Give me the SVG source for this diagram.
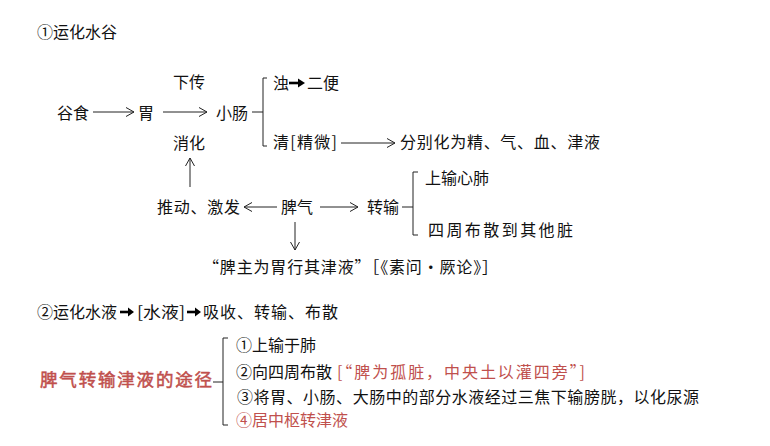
<svg xmlns="http://www.w3.org/2000/svg" width="770" height="446" viewBox="0 0 770 446">
<defs>
<style>
text{font-family:"Noto Sans CJK SC","Noto Sans",sans-serif;font-size:16px;fill:#111}
.red{fill:#c0504d}
.title{font-size:17.5px;fill:#c0504d;stroke:#c0504d;stroke-width:0.5}
.ln{stroke:#222;stroke-width:1;fill:none}
.arr{stroke:#222;stroke-width:1;fill:none;marker-end:url(#open)}
.bold{stroke:#000;stroke-width:2.6;fill:none}
.bh{fill:#000}
</style>
<marker id="open" markerUnits="userSpaceOnUse" markerWidth="12" markerHeight="12" refX="9" refY="5" orient="auto">
<path d="M1,0.5 L9,5 L1,9.5" fill="none" stroke="#222" stroke-width="1"/>
</marker>
</defs>
<rect width="770" height="446" fill="#fff"/>

<g id="connectors">
<line class="arr" x1="93" y1="112" x2="134" y2="112"/>
<line class="arr" x1="163" y1="112" x2="207" y2="112"/>
<path class="ln" d="M252,112 H263 M267,78 H263 V146 H267"/>
<path class="bold" d="M289,83 H299"/>
<path class="bh" d="M298,78.5 L305,83 L298,87.5 Z"/>
<line class="arr" x1="341" y1="143" x2="395" y2="143"/>
<line class="arr" x1="190" y1="187" x2="190" y2="158"/>
<line class="arr" x1="277" y1="207" x2="244" y2="207"/>
<line class="arr" x1="320" y1="207" x2="358" y2="207"/>
<path class="ln" d="M402,207 H413 M418,172 H413 V235 H418"/>
<line class="arr" x1="295" y1="222" x2="295" y2="250"/>
<path class="bold" d="M120,312 H129"/>
<path class="bh" d="M128,307.5 L134,312 L128,316.5 Z"/>
<path class="bold" d="M187,312 H196"/>
<path class="bh" d="M195,307.5 L201,312 L195,316.5 Z"/>
<path class="ln" d="M213,382 H223 M228,338 H223 V425 H228"/>
</g>

<g id="heading1"><text x="37" y="38">①运化水谷</text></g>
<g id="xiachuan"><text x="173" y="88">下传</text></g>
<g id="gushi"><text x="57" y="119">谷食</text></g>
<g id="wei"><text x="138" y="119">胃</text></g>
<g id="xiaochang"><text x="216" y="119">小肠</text></g>
<g id="xiaohua"><text x="173" y="149">消化</text></g>
<g id="zhuo"><text x="273" y="89">浊</text><text x="307" y="89">二便</text></g>
<g id="qing"><text x="273" y="148" textLength="64" lengthAdjust="spacing">清[精微]</text></g>
<g id="fenbie"><text x="400" y="148" textLength="200" lengthAdjust="spacing">分别化为精、气、血、津液</text></g>
<g id="tuidong"><text x="157" y="213" textLength="83" lengthAdjust="spacing">推动、激发</text></g>
<g id="piqi"><text x="281" y="213">脾气</text></g>
<g id="zhuanshu"><text x="367" y="213">转输</text></g>
<g id="shangshu"><text x="425" y="184">上输心肺</text></g>
<g id="sizhou"><text x="428" y="236" textLength="145" lengthAdjust="spacing">四周布散到其他脏</text></g>
<g id="quote"><text x="203" y="273" textLength="295" lengthAdjust="spacing">“脾主为胃行其津液”［《素问·厥论》］</text></g>

<g id="heading2">
<text x="37" y="318">②运化水液</text>
<text x="137" y="318" textLength="48" lengthAdjust="spacingAndGlyphs">[水液]</text>
<text x="203" y="318" textLength="135" lengthAdjust="spacing">吸收、转输、布散</text>
</g>
<g id="path-title"><text class="title" x="40" y="386" textLength="172" lengthAdjust="spacing">脾气转输津液的途径</text></g>
<g id="item1"><text x="236" y="351">①上输于肺</text></g>
<g id="item2"><text x="236" y="378">②向四周布散</text><text class="red" x="337" y="378" textLength="248" lengthAdjust="spacing">[“脾为孤脏，中央土以灌四旁”]</text></g>
<g id="item3"><text x="237" y="403" textLength="462" lengthAdjust="spacing">③将胃、小肠、大肠中的部分水液经过三焦下输膀胱，以化尿源</text></g>
<g id="item4"><text class="red" x="236" y="426">④居中枢转津液</text></g>
</svg>
